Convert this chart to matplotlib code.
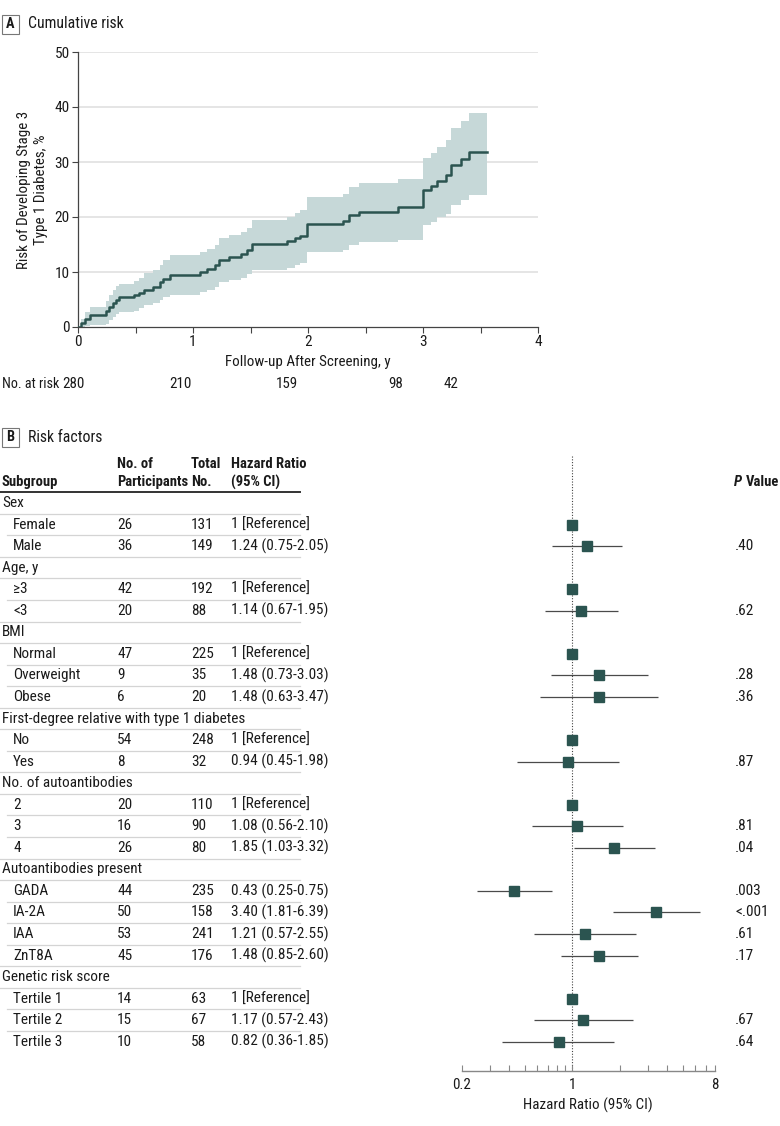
import numpy as np
import matplotlib
matplotlib.use("Agg")
import matplotlib.pyplot as plt
from matplotlib import font_manager
from matplotlib.patches import Rectangle
from matplotlib.ticker import FixedLocator, FixedFormatter, NullFormatter

installed = [(f.name, str(f.stretch)) for f in font_manager.fontManager.ttflist]
names = {n for n, _ in installed}

# narrow sans close to the journal font; fall back to Liberation Sans
if "Roboto Condensed" in names:
    family, fs = "Roboto Condensed", 11
else:
    family, fs = "Liberation Sans", 9.9
plt.rcParams["font.family"] = [family, "DejaVu Sans"]
plt.rcParams["font.size"] = fs

# ---- panel A: cumulative risk (step values) ----
km_time = [0, 0.03, 0.06, 0.10, 0.24, 0.27, 0.30, 0.33, 0.36, 0.49, 0.53, 0.57, 0.65,
           0.71, 0.74, 0.80, 1.06, 1.12, 1.19, 1.23, 1.31, 1.42, 1.47, 1.51, 1.815,
           1.89, 1.93, 1.995, 2.30, 2.36, 2.44, 2.785, 3.0, 3.07, 3.12, 3.20, 3.24,
           3.33, 3.40, 3.56]
km_risk = [0, 0.8, 1.5, 2.2, 2.9, 3.6, 4.3, 5.0, 5.4, 5.8, 6.2, 6.8, 7.3, 8.1, 8.8,
           9.5, 10.0, 10.6, 11.3, 12.2, 12.8, 13.3, 14.0, 15.1, 15.6, 16.1, 16.6,
           18.7, 19.2, 20.3, 21.0, 21.8, 24.9, 25.7, 26.6, 27.6, 29.5, 30.6, 31.9, 31.9]
km_upper = [0, 1.5, 2.8, 3.7, 4.8, 5.8, 6.8, 7.5, 7.9, 8.4, 8.9, 9.8, 10.4, 11.3, 12.2,
            13.1, 13.6, 14.2, 15.0, 16.1, 16.8, 17.2, 18.0, 19.5, 20.0, 20.7, 21.2,
            23.6, 24.2, 25.5, 26.1, 26.9, 30.7, 31.7, 32.7, 34.0, 36.1, 37.5, 39.0, 39.0]
km_lower = [0, 0, 0.1, 0.3, 0.6, 1.2, 1.8, 2.4, 2.7, 3.0, 3.4, 4.0, 4.3, 5.0, 5.5, 5.9,
            6.4, 6.8, 7.3, 8.2, 8.6, 9.0, 9.6, 10.4, 10.8, 11.2, 11.7, 13.6, 14.0,
            14.9, 15.5, 15.9, 18.5, 19.1, 20.0, 20.5, 22.2, 23.1, 24.0, 24.0]

at_risk = ["280", "210", "159", "98", "42"]
at_risk_x = [-0.04, 0.89, 1.82, 2.76, 3.24]

# ---- panel B: risk factors ----
subgroups = ["Sex", "Female", "Male", "Age, y", "≥3", "<3", "BMI", "Normal",
             "Overweight", "Obese", "First-degree relative with type 1 diabetes",
             "No", "Yes", "No. of autoantibodies", "2", "3", "4",
             "Autoantibodies present", "GADA", "IA-2A", "IAA", "ZnT8A",
             "Genetic risk score", "Tertile 1", "Tertile 2", "Tertile 3"]
is_group = [s in ("Sex", "Age, y", "BMI", "First-degree relative with type 1 diabetes",
                  "No. of autoantibodies", "Autoantibodies present", "Genetic risk score")
            for s in subgroups]
participants = ["", "26", "36", "", "42", "20", "", "47", "9", "6", "", "54", "8", "",
                "20", "16", "26", "", "44", "50", "53", "45", "", "14", "15", "10"]
totals = ["", "131", "149", "", "192", "88", "", "225", "35", "20", "", "248", "32", "",
          "110", "90", "80", "", "235", "158", "241", "176", "", "63", "67", "58"]
nan = np.nan
hr = [nan, 1, 1.24, nan, 1, 1.14, nan, 1, 1.48, 1.48, nan, 1, 0.94, nan, 1, 1.08, 1.85,
      nan, 0.43, 3.40, 1.21, 1.48, nan, 1, 1.17, 0.82]
hr_lo = [nan, nan, 0.75, nan, nan, 0.67, nan, nan, 0.73, 0.63, nan, nan, 0.45, nan, nan,
         0.56, 1.03, nan, 0.25, 1.81, 0.57, 0.85, nan, nan, 0.57, 0.36]
hr_hi = [nan, nan, 2.05, nan, nan, 1.95, nan, nan, 3.03, 3.47, nan, nan, 1.98, nan, nan,
         2.10, 3.32, nan, 0.75, 6.39, 2.55, 2.60, nan, nan, 2.43, 1.85]
p_values = ["", "", ".40", "", "", ".62", "", "", ".28", ".36", "", "", ".87", "", "",
            ".81", ".04", "", ".003", "<.001", ".61", ".17", "", "", ".67", ".64"]

teal = "#2b5450"
band = "#c6d8d8"
text_c = "#1a1a1a"

W, H = 780, 1126
fig = plt.figure(figsize=(W / 100, H / 100), dpi=100)


def px_axes(x0, y0, x1, y1):
    return fig.add_axes([x0 / W, 1 - y1 / H, (x1 - x0) / W, (y1 - y0) / H])


canvas = px_axes(0, 0, W, H)
canvas.set_xlim(0, W)
canvas.set_ylim(H, 0)
canvas.axis("off")


def panel_label(letter, title, y):
    canvas.add_patch(Rectangle((2, y - 9.5), 17, 19, fill=False, ec="#777777", lw=0.8))
    canvas.text(10.5, y, letter, ha="center", va="center", fontsize=fs - 0.7,
                fontweight="bold", color=text_c)
    canvas.text(28, y, title, ha="left", va="center", fontsize=fs + 0.3, color=text_c)


panel_label("A", "Cumulative risk", 24)
panel_label("B", "Risk factors", 437)

# ---- KM plot ----
ax = px_axes(78, 52, 538, 327)
ax.fill_between(km_time, km_lower, km_upper, step="post", color=band, lw=0, zorder=2)
ax.step(km_time, km_risk, where="post", color=teal, lw=1.8, zorder=3)
ax.set_xlim(0, 4)
ax.set_ylim(0, 50)
ax.set_yticks(range(0, 51, 10))
ax.set_xticks(range(0, 5))
ax.xaxis.set_minor_locator(FixedLocator(np.arange(0.5, 4, 1)))
for yv in range(10, 51, 10):
    ax.axhline(yv, color="#e0e0e0", lw=1.2, zorder=1)
for side in ("top", "right"):
    ax.spines[side].set_visible(False)
for side in ("left", "bottom"):
    ax.spines[side].set_color("#444444")
    ax.spines[side].set_linewidth(0.9)
ax.tick_params(which="both", direction="out", length=4, width=0.8, color="#444444",
               labelsize=fs, labelcolor=text_c, pad=2)
ax.set_xlabel("Follow-up After Screening, y", fontsize=fs - 0.2, color=text_c, labelpad=4)
ax.set_ylabel("Risk of Developing Stage 3\nType 1 Diabetes, %", fontsize=fs - 0.2,
              color=text_c, labelpad=5, linespacing=1.25)

canvas.text(2, 384, "No. at risk", ha="left", va="center", fontsize=fs - 0.8, color=text_c)
for lab, xv in zip(at_risk, at_risk_x):
    xp = 78 + xv * 115
    canvas.text(xp, 384, lab, ha="center", va="center", fontsize=fs - 0.2, color=text_c)

# ---- table ----
row0, step = 503, 21.55
rows_y = [row0 + i * step for i in range(len(subgroups))]

col_sub, col_part, col_tot, col_hr = 2, 117, 191, 231
hdr_kw = dict(fontsize=fs - 0.5, fontweight="bold", color=text_c, va="center")
canvas.text(col_sub, 482, "Subgroup", ha="left", **hdr_kw)
canvas.text(col_part, 464, "No. of", ha="left", **hdr_kw)
canvas.text(col_part, 482, "Participants", ha="left", **hdr_kw)
canvas.text(col_tot, 464, "Total", ha="left", **hdr_kw)
canvas.text(col_tot, 482, "No.", ha="left", **hdr_kw)
canvas.text(col_hr, 464, "Hazard Ratio", ha="left", **hdr_kw)
canvas.text(col_hr, 482, "(95% CI)", ha="left", **hdr_kw)
canvas.text(563, 464, "Lower", ha="right", **hdr_kw)
canvas.text(563, 482, "Risk", ha="right", **hdr_kw)
canvas.text(582, 464, "Higher", ha="left", **hdr_kw)
canvas.text(582, 482, "Risk", ha="left", **hdr_kw)
canvas.text(779, 482, "Value", ha="right", **hdr_kw)
canvas.text(742, 482, "P", ha="right", style="italic", **hdr_kw)
canvas.plot([0, 300], [492, 492], color="#333333", lw=1.4)

n = len(subgroups)
for i in range(n):
    y = rows_y[i]
    if is_group[i]:
        canvas.text(col_sub, y, subgroups[i], ha="left", va="center", fontsize=fs, color=text_c)
    else:
        canvas.text(col_sub + 11, y, subgroups[i], ha="left", va="center", fontsize=fs,
                    color=text_c)
        canvas.text(col_part, y, participants[i], ha="left", va="center", fontsize=fs,
                    color=text_c)
        canvas.text(col_tot, y, totals[i], ha="left", va="center", fontsize=fs, color=text_c)
        if np.isnan(hr_lo[i]):
            hr_txt = "1 [Reference]"
        else:
            hr_txt = f"{hr[i]:.2f} ({hr_lo[i]:.2f}-{hr_hi[i]:.2f})"
        canvas.text(col_hr, y, hr_txt, ha="left", va="center", fontsize=fs, color=text_c)
        canvas.text(735, y, p_values[i], ha="left", va="center", fontsize=fs, color=text_c)
    if i < n - 1:
        x_start = 7 if (not is_group[i] and not is_group[i + 1]) else 0
        canvas.plot([x_start, 300], [y + step / 2] * 2, color="#d4d4d4", lw=0.9)

# ---- forest plot ----
fx = px_axes(461.7, 455, 715, 1071)
fx.set_xscale("log")
fx.set_xlim(0.2, 8)
fx.set_ylim((1071 - row0) / step, (455 - row0) / step)
fx.axvline(1, color="#444444", lw=0.8, ls=(0, (1, 1.5)), zorder=1)
idx = np.arange(n)
fx.hlines(idx, np.array(hr_lo), np.array(hr_hi), color="#4a4a4a", lw=0.9, zorder=2)
fx.plot(np.array(hr), idx, ls="none", marker="s", ms=6.5, color=teal, mec=teal, zorder=3)
fx.set_yticks([])
for side in ("top", "right", "left"):
    fx.spines[side].set_visible(False)
fx.spines["bottom"].set_color("#888888")
fx.spines["bottom"].set_linewidth(1.0)
fx.xaxis.set_major_locator(FixedLocator([0.2, 1, 8]))
fx.xaxis.set_major_formatter(FixedFormatter(["0.2", "1", "8"]))
fx.xaxis.set_minor_locator(FixedLocator([0.3, 0.4, 0.5, 0.6, 0.7, 0.8, 0.9,
                                         2, 3, 4, 5, 6, 7]))
fx.xaxis.set_minor_formatter(NullFormatter())
fx.tick_params(which="both", direction="in", length=4, width=0.8, color="#888888",
               labelsize=fs - 0.2, labelcolor=text_c, pad=5)
fx.set_xlabel("Hazard Ratio (95% CI)", fontsize=fs - 0.2, color=text_c, labelpad=4)

fig.savefig("out.png", dpi=100)
